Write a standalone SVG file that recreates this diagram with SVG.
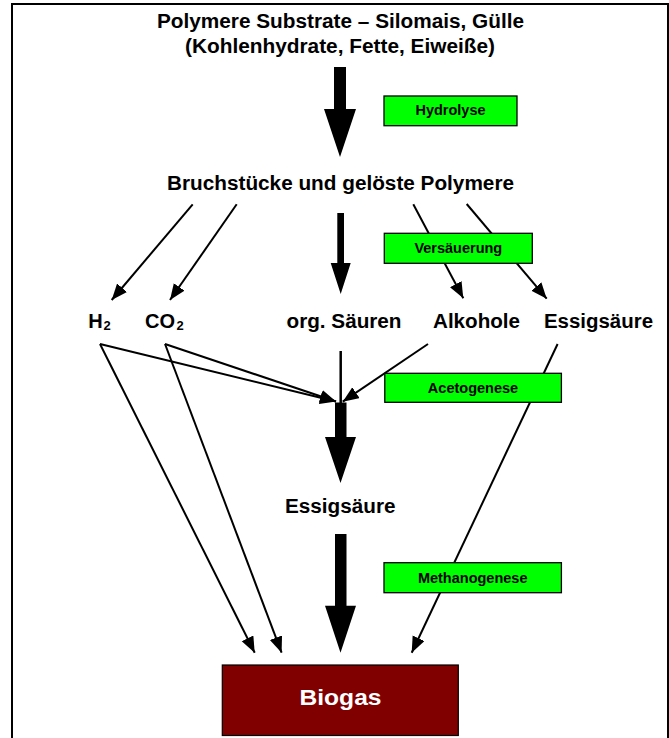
<svg xmlns="http://www.w3.org/2000/svg" width="669" height="738" viewBox="0 0 669 738">
  <defs>
    <marker id="ah" markerUnits="userSpaceOnUse" markerWidth="18" markerHeight="15" refX="16" refY="6.5" orient="auto">
      <path d="M0,0 L16,6.5 L0,13 Z" fill="#000"/>
    </marker>
  </defs>
  <style>
    .t { font-family: "Liberation Sans", Arial, sans-serif; font-weight: bold; fill: #000; }
    .m { font-size: 20px; }
    .lbl { font-size: 14.5px; text-anchor: middle; }
    .sub { font-size: 13px; }
    .green { fill: #00FF00; stroke: #000; stroke-width: 1.3; }
    .ln { stroke: #000; stroke-width: 2; fill: none; marker-end: url(#ah); }
    .big { fill: #000; }
  </style>
  <rect x="0" y="0" width="669" height="738" fill="#fff"/>
  <rect x="12" y="4" width="656" height="800" fill="none" stroke="#000" stroke-width="2"/>

  <g id="connectors">
    <!-- thick process arrows -->
    <polygon class="big" points="334,67 346,67 346,109 356,109 340,157 324,109 334,109"/>
    <polygon class="big" points="337.3,213 344,213 344,263 350.7,263 340.7,294 330.7,263 337.3,263"/>
    <polygon class="big" points="335,402.5 346.5,402.5 346.5,437 356,437 340.5,483 325,437 335,437"/>
    <polygon class="big" points="335,534 346.5,534 346.5,605.7 356,605.7 340.5,652.7 325,605.7 335,605.7"/>
    <!-- fragments to products -->
    <line class="ln" x1="192.7" y1="204.3" x2="111.7" y2="300"/>
    <line class="ln" x1="236.7" y1="204.3" x2="170" y2="300"/>
    <line class="ln" x1="413.3" y1="204.3" x2="463.3" y2="298.3"/>
    <line class="ln" x1="466.7" y1="204" x2="546.7" y2="298.7"/>
    <!-- to acetogenesis junction -->
    <line x1="340.7" y1="351" x2="340.7" y2="403" stroke="#000" stroke-width="2.5"/>
    <line class="ln" x1="100" y1="344" x2="336" y2="401.5"/>
    <line class="ln" x1="165" y1="344" x2="336" y2="401.5"/>
    <line class="ln" x1="428" y1="344" x2="342.7" y2="401.7"/>
    <!-- to biogas -->
    <line class="ln" x1="100" y1="344" x2="254.7" y2="652.7"/>
    <line class="ln" x1="165" y1="344" x2="281.6" y2="652.7"/>
    <line class="ln" x1="557.6" y1="344" x2="411.7" y2="652.7"/>
  </g>

  <g id="substrate">
    <text class="t m" x="157" y="28" textLength="367" lengthAdjust="spacingAndGlyphs">Polymere Substrate – Silomais, Gülle</text>
    <text class="t m" x="185" y="53" textLength="310" lengthAdjust="spacingAndGlyphs">(Kohlenhydrate, Fette, Eiweiße)</text>
  </g>

  <g id="hydrolyse">
    <rect class="green" x="384" y="96" width="133" height="29.7"/>
    <text class="t lbl" x="450.5" y="115">Hydrolyse</text>
  </g>

  <g id="bruchstuecke">
    <text class="t m" x="167" y="190" textLength="347" lengthAdjust="spacingAndGlyphs">Bruchstücke und gelöste Polymere</text>
  </g>

  <g id="versaeuerung">
    <rect class="green" x="384.3" y="233.3" width="148" height="30"/>
    <text class="t lbl" x="458.3" y="252.5">Versäuerung</text>
  </g>

  <g id="h2">
    <text class="t m" x="88.3" y="328.3">H<tspan class="sub" x="103.5" y="330">2</tspan></text>
  </g>

  <g id="co2">
    <text class="t m" x="145" y="328.3">CO<tspan class="sub" x="176.5" y="330">2</tspan></text>
  </g>

  <g id="org-saeuren">
    <text class="t m" x="286.5" y="328.3" textLength="115" lengthAdjust="spacingAndGlyphs">org. Säuren</text>
  </g>

  <g id="alkohole">
    <text class="t m" x="433" y="328.3" textLength="87" lengthAdjust="spacingAndGlyphs">Alkohole</text>
  </g>

  <g id="essigsaeure-1">
    <text class="t m" x="544" y="328.3" textLength="109" lengthAdjust="spacingAndGlyphs">Essigsäure</text>
  </g>

  <g id="acetogenese">
    <rect class="green" x="384.8" y="373.3" width="176.6" height="29"/>
    <text class="t lbl" x="473" y="392.5">Acetogenese</text>
  </g>

  <g id="essigsaeure-2">
    <text class="t m" x="285" y="513.3" textLength="110.5" lengthAdjust="spacingAndGlyphs">Essigsäure</text>
  </g>

  <g id="methanogenese">
    <rect class="green" x="384" y="562.7" width="177.4" height="30"/>
    <text class="t lbl" x="472.7" y="582.5">Methanogenese</text>
  </g>

  <g id="biogas">
    <rect x="222.3" y="665" width="236" height="70.5" fill="#800000" stroke="#000" stroke-width="1.2"/>
    <text class="t" x="299.5" y="705" font-size="22" fill="#fff" style="fill:#fff" textLength="82" lengthAdjust="spacingAndGlyphs">Biogas</text>
  </g>
</svg>
